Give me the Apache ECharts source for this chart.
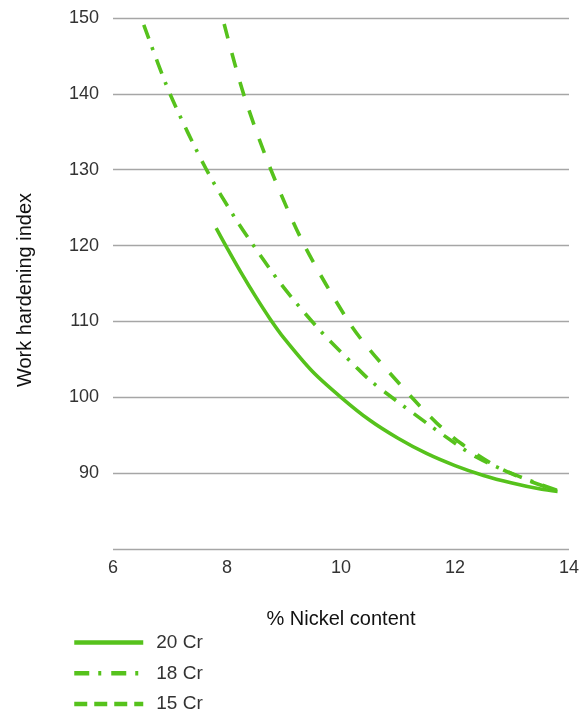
<!DOCTYPE html>
<html>
<head>
<meta charset="utf-8">
<script src="https://cdn.jsdelivr.net/npm/echarts@6/dist/echarts.min.js"></script>
<style>
html,body{margin:0;padding:0;background:#fff;}
#chart{width:587px;height:713px;}
</style>
</head>
<body>
<div id="chart"></div>
<script>
const seriesNames = ['20 Cr', '18 Cr', '15 Cr'];
const cr20 = [[7.81,122.3],[8.0,119.7],[8.25,116.4],[8.5,113.3],[8.75,110.4],[9.0,107.8],[9.5,103.4],[10.0,100.0],[10.5,97.0],[11.0,94.6],[11.5,92.6],[12.0,91.0],[12.5,89.7],[13.0,88.7],[13.5,87.9],[13.8,87.6]];
const cr18 = [[6.54,149.1],[7.0,140],[7.64,130],[8.16,123.4],[8.53,119.3],[8.92,115.2],[9.33,111.4],[9.77,107.7],[10.25,104.1],[10.5,102.3],[10.89,100],[11.8,95.0],[12.38,92.1],[13.08,89.7],[13.8,87.7]];
const cr15 = [[7.95,149.2],[8.29,140],[8.77,130],[9.36,120],[10.13,110],[10.51,106.2],[11.24,100],[11.68,96.6],[12.09,94.0],[12.61,91.4],[13.0,89.9],[13.55,88.3],[13.8,87.8]];
const xTicks = [6, 8, 10, 12, 14];
const yTicks = [90, 100, 110, 120, 130, 140, 150];

const green = '#56c21c';
const font = '"Liberation Sans", Arial, sans-serif';
const chart = echarts.init(document.getElementById('chart'), null, {renderer: 'canvas'});
const dashes = ['solid', [15, 9, 3, 10], [15, 15]];
const legendDashes = ['solid', [15, 9, 3, 10], [13, 7]];
const datas = [cr20, cr18, cr15];

chart.setOption({
  animation: false,
  backgroundColor: '#fff',
  grid: {left: 113, right: 18, top: 18, bottom: 164},
  xAxis: {
    type: 'value', min: xTicks[0], max: xTicks[xTicks.length - 1], interval: 2,
    name: '% Nickel content', nameLocation: 'middle', nameGap: 60,
    nameTextStyle: {color: '#111', fontSize: 20, fontFamily: font},
    axisLine: {show: false}, axisTick: {show: false},
    axisLabel: {color: '#333', fontSize: 18, fontFamily: font, margin: 10},
    splitLine: {show: false}
  },
  yAxis: {
    type: 'value', min: 80, max: yTicks[yTicks.length - 1], interval: 10,
    name: 'Work hardening index', nameLocation: 'middle', nameGap: 78,
    nameTextStyle: {color: '#111', fontSize: 20, fontFamily: font, padding: [0, 13, 0, 0]},
    axisLine: {show: false}, axisTick: {show: false},
    axisLabel: {color: '#333', fontSize: 18, fontFamily: font, margin: 14,
      formatter: v => (yTicks.indexOf(v) >= 0 ? String(v) : '')},
    splitLine: {show: true, lineStyle: {color: '#a6a6a6', width: 1.4}}
  },
  legend: {
    orient: 'vertical', left: 72, top: 633, height: 100, padding: 0,
    itemWidth: 69, itemHeight: 18, itemGap: 11.8,
    itemStyle: {opacity: 0},
    textStyle: {color: '#333', fontSize: 19, fontFamily: font, lineHeight: 18, padding: [0, 0, 0, 8]},
    data: seriesNames.map((n, i) => ({name: n, lineStyle: {width: 4.5, type: legendDashes[i], color: green}}))
  },
  series: datas.map((d, i) => ({
    name: seriesNames[i], type: 'line', data: d, smooth: 0.3, showSymbol: false, symbol: 'none',
    lineStyle: {color: green, width: 3.6, type: dashes[i], cap: 'butt'},
    itemStyle: {color: green}
  }))
});
</script>
</body>
</html>
